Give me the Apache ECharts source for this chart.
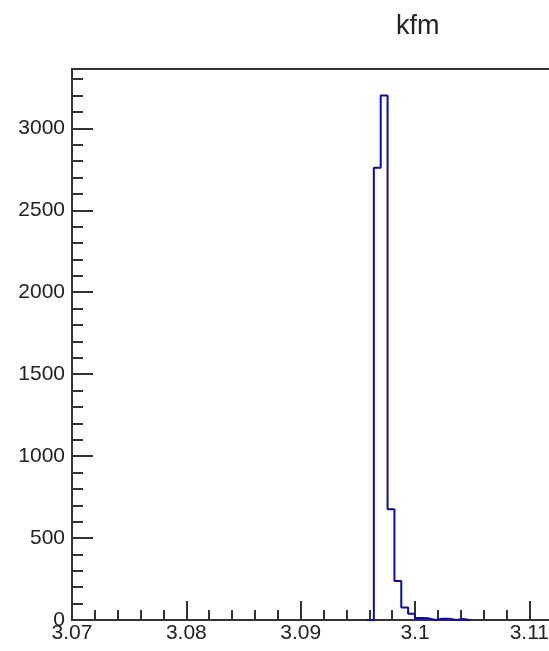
<!DOCTYPE html>
<html>
<head>
<meta charset="utf-8">
<script src="https://cdn.jsdelivr.net/npm/echarts@6/dist/echarts.min.js"></script>
<style>
  html, body { margin: 0; padding: 0; background: #fff; overflow: hidden; }
  #main { width: 800px; height: 651px; }
</style>
</head>
<body>
<div id="main"></div>
<script>
// histogram bins (low edge) and counts
const binLowEdges = [3.0958, 3.0964, 3.0970, 3.0976, 3.0982, 3.0988, 3.0994,
                     3.1000, 3.1006, 3.1012, 3.1018, 3.1024, 3.1030, 3.1036, 3.1042];
const binWidth = 0.0006;
const binCounts = [0, 2760, 3200, 675, 238, 76, 38, 12, 10, 0, 8, 8, 0, 6, 0];

const xRange = [3.07, 3.13];
const yRange = [0, 3362];

// step outline like ROOT's HIST drawing
const outline = [[binLowEdges[0], 0]];
binLowEdges.forEach((lo, i) => {
  const hi = +(lo + binWidth).toFixed(4);
  outline.push([lo, binCounts[i]]);
  outline.push([hi, binCounts[i]]);
});
outline.push([+(binLowEdges[binLowEdges.length - 1] + binWidth).toFixed(4), 0]);

const chart = echarts.init(document.getElementById('main'), null, { renderer: 'canvas' });

const txt = '#222';
const axisCol = '#333';
const font = 'Liberation Sans, Helvetica, Arial, sans-serif';

const option = {
  animation: false,
  backgroundColor: '#fff',
  title: {
    text: 'kfm',
    left: 391,
    top: 8,
    textStyle: { fontFamily: font, fontSize: 27, fontWeight: 'normal', color: txt }
  },
  grid: {
    left: 72, top: 69, width: 686, height: 551,
    show: true, borderColor: axisCol, borderWidth: 2, backgroundColor: 'transparent'
  },
  xAxis: [
    {
      type: 'value', min: xRange[0], max: xRange[1], interval: 0.01,
      axisLine: { show: true, lineStyle: { color: axisCol, width: 2 } },
      axisTick: { show: true, inside: true, length: 19, lineStyle: { color: axisCol, width: 2 } },
      axisLabel: { margin: 3, fontFamily: font, fontSize: 21, color: txt, showMaxLabel: false,
                   formatter: v => String(+v.toFixed(4)) },
      splitLine: { show: false }
    },
    {
      type: 'value', min: xRange[0], max: xRange[1], interval: 0.002,
      position: 'bottom',
      axisLine: { show: false },
      axisTick: { show: true, inside: true, length: 10, lineStyle: { color: axisCol, width: 2 } },
      axisLabel: { show: false },
      splitLine: { show: false }
    }
  ],
  yAxis: [
    {
      type: 'value', min: yRange[0], max: yRange[1], interval: 500,
      axisLine: { show: true, lineStyle: { color: axisCol, width: 2 } },
      axisTick: { show: true, inside: true, length: 21, lineStyle: { color: axisCol, width: 2 } },
      axisLabel: { margin: 7, fontFamily: font, fontSize: 21, color: txt, showMaxLabel: false,
                   formatter: v => String(Math.round(v)) },
      splitLine: { show: false }
    },
    {
      type: 'value', min: yRange[0], max: yRange[1], interval: 100,
      position: 'left',
      axisLine: { show: false },
      axisTick: { show: true, inside: true, length: 11, lineStyle: { color: axisCol, width: 2 } },
      axisLabel: { show: false },
      splitLine: { show: false }
    }
  ],
  series: [{
    type: 'line',
    xAxisIndex: 0,
    yAxisIndex: 0,
    data: outline,
    showSymbol: false,
    symbol: 'none',
    lineStyle: { color: '#0a0ab4', width: 2 },
    clip: true,
    z: 5
  }]
};

chart.setOption(option);
</script>
</body>
</html>
